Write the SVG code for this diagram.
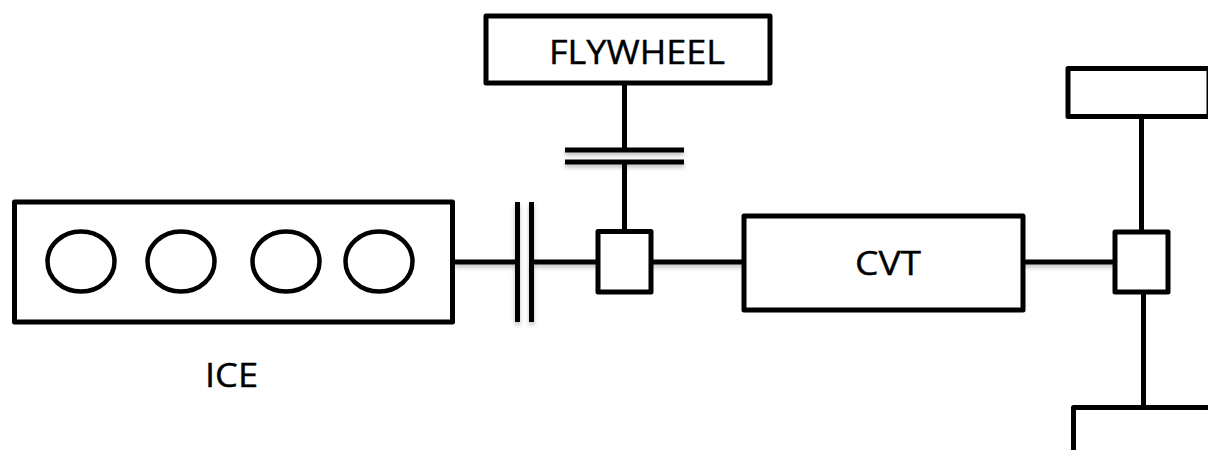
<svg xmlns="http://www.w3.org/2000/svg" width="1208" height="450" viewBox="0 0 1208 450">
  <style>
    .box { fill: #fff; stroke: #000; stroke-width: 5; stroke-linejoin: round; }
    .cyl { fill: #fff; stroke: #000; stroke-width: 4.5; }
    .wire { fill: none; stroke: #000; stroke-width: 5; }
    .label { font-family: "Open Sans", "Liberation Sans", sans-serif; font-size: 33px; fill: #000; stroke: #000; stroke-width: 0.4; }
  </style>
  <defs>
    <filter id="soft" x="-20%" y="-20%" width="140%" height="140%">
      <feDropShadow dx="0" dy="3" stdDeviation="2" flood-color="#000" flood-opacity="0.25"/>
    </filter>
  </defs>
  <rect width="1208" height="450" fill="#fff"/>
  <g id="connectors">
    <g filter="url(#soft)">
      <line class="wire" x1="455" y1="262" x2="517" y2="262"/>
      <line class="wire" x1="532" y1="262" x2="598" y2="262"/>
      <line class="wire" x1="651" y1="262" x2="744" y2="262"/>
      <line class="wire" x1="1023" y1="262" x2="1115" y2="262"/>
      <line class="wire" x1="565" y1="150" x2="684" y2="150"/>
      <line class="wire" x1="565" y1="162" x2="684" y2="162"/>
      <line class="wire" x1="517.5" y1="202" x2="517.5" y2="322"/>
      <line class="wire" x1="531.5" y1="202" x2="531.5" y2="322"/>
    </g>
    <line class="wire" x1="624.5" y1="85" x2="624.5" y2="150"/>
    <line class="wire" x1="624.5" y1="162" x2="624.5" y2="231"/>
    <line class="wire" x1="1141.5" y1="117" x2="1141.5" y2="232"/>
    <line class="wire" x1="1143.5" y1="292" x2="1143.5" y2="407"/>
  </g>
  <g id="flywheel">
    <rect class="box" x="486" y="16" width="284" height="67"/>
    <text class="label" x="549" y="64" textLength="176" lengthAdjust="spacingAndGlyphs">FLYWHEEL</text>
  </g>
  <g id="ice">
    <rect class="box" x="14.5" y="202" width="438" height="120"/>
    <ellipse class="cyl" cx="81" cy="261.5" rx="33.5" ry="30"/>
    <ellipse class="cyl" cx="181" cy="261.5" rx="33.5" ry="30"/>
    <ellipse class="cyl" cx="286" cy="261.5" rx="33.5" ry="30"/>
    <ellipse class="cyl" cx="379" cy="261.5" rx="33.5" ry="30"/>
    <text class="label" x="205" y="387" textLength="53" lengthAdjust="spacingAndGlyphs">ICE</text>
  </g>
  <g id="junction-left"><rect class="box" x="598" y="231.5" width="53" height="60.5"/></g>
  <g id="cvt">
    <rect class="box" x="744" y="216" width="279" height="94"/>
    <text class="label" x="855" y="275" textLength="66" lengthAdjust="spacingAndGlyphs">CVT</text>
  </g>
  <g id="junction-right"><rect class="box" x="1115" y="232" width="53" height="60"/></g>
  <g id="top-right-box"><rect class="box" x="1068" y="68.5" width="141" height="48"/></g>
  <g id="bottom-right-box"><rect class="box" x="1073.5" y="407.5" width="150" height="60"/></g>
</svg>
